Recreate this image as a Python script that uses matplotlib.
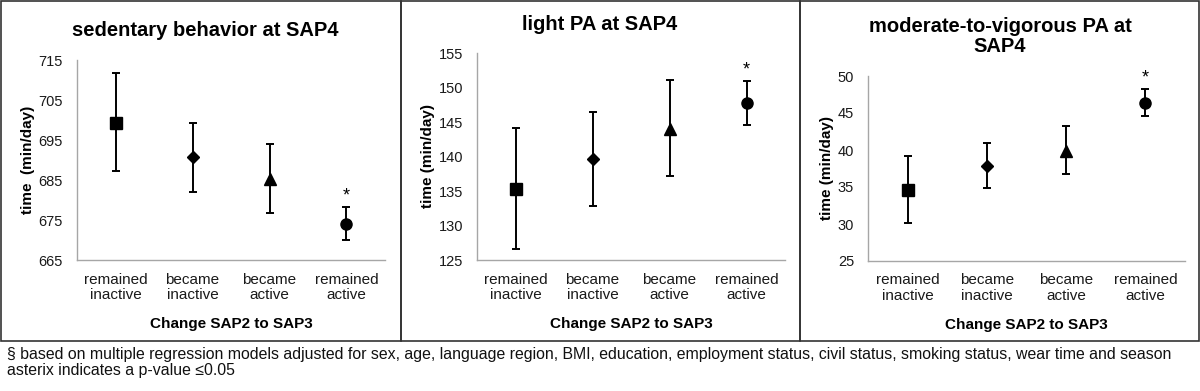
import numpy as np
import matplotlib.pyplot as plt
from matplotlib.patches import Rectangle

#%% Data

groups      = ['remained\ninactive', 'became\ninactive', 'became\nactive', 'remained\nactive']
markers     = ['s', 'D', '^', 'o']

sed_mean    = [699.3, 690.7, 685.2, 674.0]
sed_low     = [687.3, 682.1, 676.8, 670.0]
sed_high    = [711.8, 699.3, 694.0, 678.3]

light_mean  = [135.3, 139.6, 144.0, 147.7]
light_low   = [126.6, 132.8, 137.2, 144.6]
light_high  = [144.2, 146.4, 151.1, 150.9]

mvpa_mean   = [34.6, 37.9, 39.9, 46.35]
mvpa_low    = [30.2, 34.9, 36.7, 44.6]
mvpa_high   = [39.2, 40.9, 43.2, 48.2]

signif      = [False, False, False, True]

#%% Figure

W, H = 1200, 391
fig = plt.figure(figsize=(W / 100, H / 100), dpi=100)
plt.rcParams['font.family'] = ['Liberation Sans', 'DejaVu Sans']

def px_axes(x0, y0, x1, y1):
    # pixel box (top-left origin) -> figure axes
    return fig.add_axes([x0 / W, 1 - y1 / H, (x1 - x0) / W, (y1 - y0) / H])

panels = [
    dict(box=(77, 60, 385, 260), title='sedentary behavior at SAP4', tx=205, ty=30,
         mean=sed_mean, low=sed_low, high=sed_high, ylim=(665, 715), step=10,
         ylab='time  (min/day)', lx=28),
    dict(box=(477, 53, 785, 260), title='light PA at SAP4', tx=600, ty=25,
         mean=light_mean, low=light_low, high=light_high, ylim=(125, 155), step=5,
         ylab='time (min/day)', lx=428),
    dict(box=(868, 76, 1185, 261), title='moderate-to-vigorous PA at\nSAP4', tx=1000, ty=36.5,
         mean=mvpa_mean, low=mvpa_low, high=mvpa_high, ylim=(25, 50), step=5,
         ylab='time (min/day)', lx=827),
]

x = np.arange(len(groups))
spine_col = '#a6a6a6'

for p in panels:
    ax = px_axes(*p['box'])
    mean = np.array(p['mean'])
    err = [mean - np.array(p['low']), np.array(p['high']) - mean]
    for i in range(len(groups)):
        ms = 6.5 if markers[i] == 'D' else 8
        ax.errorbar(x[i], mean[i], yerr=[[err[0][i]], [err[1][i]]], fmt=markers[i],
                    color='black', ms=ms, elinewidth=1.4, capsize=3, capthick=1.4)
        if signif[i]:
            ax.annotate('*', (x[i], p['high'][i]), xytext=(0, 2), textcoords='offset points',
                        ha='center', va='bottom', fontsize=13)
    ax.set_xlim(-0.5, 3.5)
    ax.set_ylim(*p['ylim'])
    ax.set_yticks(np.arange(p['ylim'][0], p['ylim'][1] + 0.1, p['step']))
    ax.set_xticks(x)
    ax.set_xticklabels(groups, fontsize=11, color='#1a1a1a', linespacing=1.15)
    ax.tick_params(axis='both', length=0, colors='#1a1a1a')
    ax.tick_params(axis='x', pad=9)
    ax.tick_params(axis='y', pad=10, labelsize=10.5)
    for s in ['top', 'right']:
        ax.spines[s].set_visible(False)
    for s in ['left', 'bottom']:
        ax.spines[s].set_color(spine_col)
        ax.spines[s].set_linewidth(1.0)
    ax.set_xlabel('Change SAP2 to SAP3', fontsize=11, fontweight='bold', labelpad=11)

    fig.text(p['tx'] / W, 1 - p['ty'] / H, p['title'], ha='center', va='center',
             fontsize=14.5, fontweight='bold', linespacing=1.12)
    cy = (p['box'][1] + p['box'][3]) / 2
    fig.text(p['lx'] / W, 1 - cy / H, p['ylab'], ha='center', va='center',
             rotation=90, fontsize=11, fontweight='bold')

# panel frames
for x0, x1 in [(1, 401), (401, 800), (800, 1199)]:
    fig.add_artist(Rectangle((x0 / W, 1 - 341 / H), (x1 - x0) / W, 340 / H,
                             transform=fig.transFigure, fill=False,
                             edgecolor='#333333', lw=1.2))

# footnote
fig.text(7 / W, 1 - 355 / H,
         '\u00a7 based on multiple regression models adjusted for sex, age, language region, BMI, '
         'education, employment status, civil status, smoking status, wear time and season',
         ha='left', va='center', fontsize=11.4, color='#111111')
fig.text(7 / W, 1 - 371 / H, 'asterix indicates a p-value \u22640.05',
         ha='left', va='center', fontsize=11.4, color='#111111')

plt.savefig('out.png', dpi=100)
